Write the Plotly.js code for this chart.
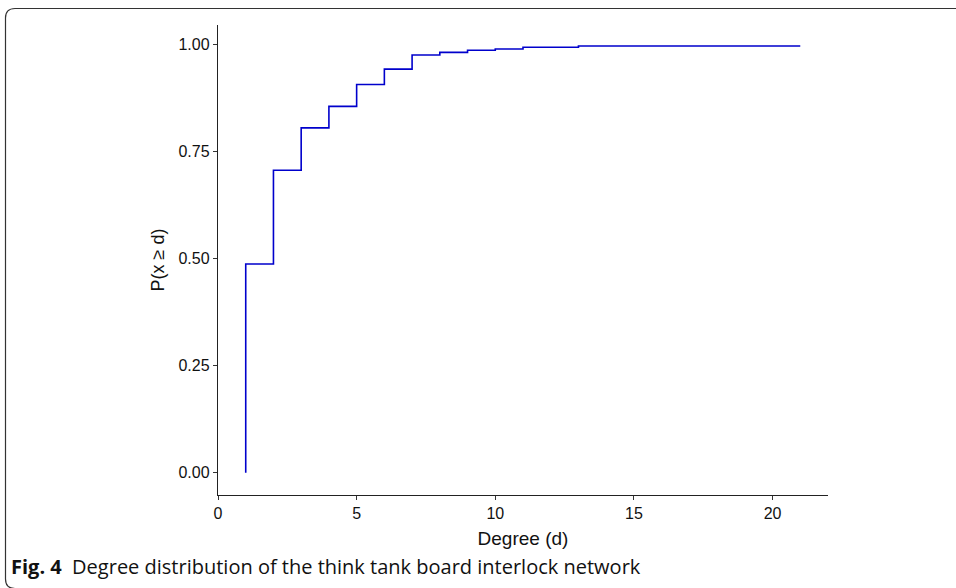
<!DOCTYPE html>
<html>
<head>
<meta charset="utf-8">
<script src="https://cdn.plot.ly/plotly-3.0.1.min.js"></script>
<style>
html,body{margin:0;padding:0;background:#fff;}
#chart{width:956px;height:588px;}
</style>
</head>
<body>
<div id="chart"></div>
<script>
// Data
const degree = [1, 1, 2, 3, 4, 5, 6, 7, 8, 9, 10, 11, 13, 21];
const prob   = [0, 0.487, 0.706, 0.805, 0.855, 0.906, 0.942, 0.975, 0.981, 0.986, 0.989, 0.993, 0.996, 0.996];
const yTickVals = [0, 0.25, 0.5, 0.75, 1.0];
const yTickText = ["0.00", "0.25", "0.50", "0.75", "1.00"];
const xTickVals = [0, 5, 10, 15, 20];
const xTickText = ["0", "5", "10", "15", "20"];

const W = 956, H = 588;
const L = 218, R = 128, T = 25, B = 93;
const pw = W - L - R, ph = H - T - B;
function px(x){ return (x - L) / pw; }
function py(y){ return (H - B - y) / ph; }

const framePath = [
  'M', px(975), py(8.5),
  'L', px(15), py(8.5),
  'Q', px(5.5), py(8.5), px(5.5), py(18),
  'L', px(5.5), py(579),
  'Q', px(5.5), py(588.5), px(15), py(588.5),
  'L', px(975), py(588.5)
].join(' ');

const trace = {
  x: degree,
  y: prob,
  type: 'scatter',
  mode: 'lines',
  line: {shape: 'hv', color: '#0000cc', width: 1.6},
  hoverinfo: 'x+y'
};

const FONT = '"Liberation Sans", Arial, sans-serif';

const axisCommon = {
  showgrid: false,
  zeroline: false,
  showline: true,
  linecolor: '#222',
  linewidth: 1.2,
  ticks: 'outside',
  ticklen: 4,
  tickwidth: 1,
  tickcolor: '#333',
  tickfont: {family: FONT, size: 16, color: '#111'},
  tickmode: 'array'
};

const layout = {
  width: W, height: H,
  margin: {l: L, r: R, t: T, b: B, pad: 0},
  paper_bgcolor: '#fff',
  plot_bgcolor: '#fff',
  showlegend: false,
  font: {family: FONT},
  xaxis: Object.assign({}, axisCommon, {
    range: [0, 22],
    tickvals: xTickVals,
    ticktext: xTickText,
    title: {text: 'Degree (d)', font: {family: FONT, size: 19, color: '#111'}, standoff: 10}
  }),
  yaxis: Object.assign({}, axisCommon, {
    range: [-0.052, 1.045],
    tickvals: yTickVals,
    ticktext: yTickText,
    title: {text: 'P(x ≥ d)', font: {family: FONT, size: 18, color: '#111'}, standoff: 9}
  }),
  shapes: [{
    type: 'path', xref: 'paper', yref: 'paper', path: framePath,
    line: {color: '#333', width: 1.2}, layer: 'below'
  }],
  annotations: [{
    xref: 'paper', yref: 'paper',
    x: px(9), y: py(566),
    xanchor: 'left', yanchor: 'middle',
    showarrow: false,
    text: '<b>Fig. 4</b>  Degree distribution of the think tank board interlock network',
    font: {family: '"Open Sans", "Noto Sans", sans-serif', size: 20, color: '#111'}
  }]
};

Plotly.newPlot('chart', [trace], layout, {displayModeBar: false, staticPlot: true});
</script>
</body>
</html>
